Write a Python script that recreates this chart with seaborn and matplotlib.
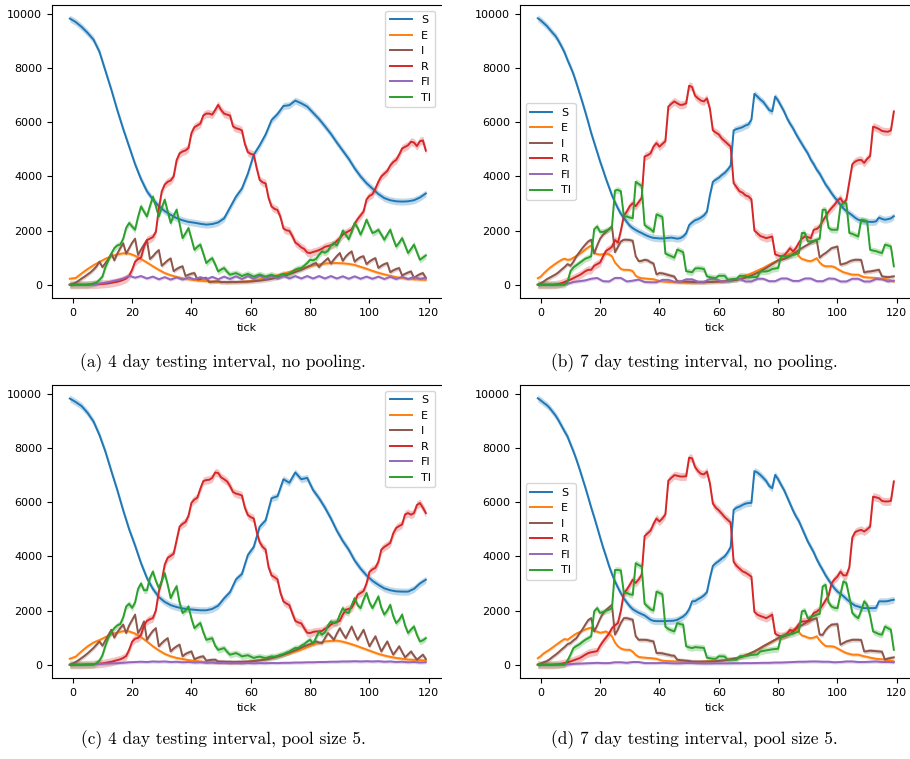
import matplotlib
matplotlib.use("Agg")
import matplotlib.pyplot as plt
import pandas as pd
import seaborn as sns

# ---------------- data ----------------
TICKS = list(range(-1, 120))          # every tick
TICKS_ODD = list(range(-1, 120, 2))   # every second tick (smooth series)
SERIES = ["S", "E", "I", "R", "FI", "TI"]
PALETTE = {"S": "#1f77b4", "E": "#ff7f0e", "I": "#8c564b",
           "R": "#d62728", "FI": "#9467bd", "TI": "#2ca02c"}
BAND = {"S": 130, "E": 60, "I": 80, "R": 150, "FI": 60, "TI": 120}
CAPTIONS = ["(a) 4 day testing interval, no pooling.",
            "(b) 7 day testing interval, no pooling.",
            "(c) 4 day testing interval, pool size 5.",
            "(d) 7 day testing interval, pool size 5."]

# ---- (a) 4 day, no pooling ----
A_S = [9830, 9700, 9520, 9300, 9050, 8600, 7900, 7200, 6450, 5750,
       5100, 4450, 3900, 3450, 3150, 2900, 2720, 2580, 2460, 2380,
       2320, 2290, 2250, 2220, 2240, 2300, 2450, 2850, 3250, 3550,
       4100, 4800, 5150, 5550, 6080, 6300, 6600, 6630, 6800, 6700,
       6580, 6350, 6120, 5850, 5570, 5250, 4950, 4650, 4300, 4000,
       3750, 3550, 3350, 3200, 3120, 3080, 3070, 3080, 3120, 3220,
       3370]
A_E = [220, 250, 420, 580, 720, 840, 960, 1050, 1120, 1160,
       1150, 1070, 950, 820, 680, 550, 430, 350, 290, 240,
       200, 170, 150, 130, 115, 105, 95, 90, 95, 105,
       125, 160, 200, 250, 300, 350, 410, 470, 540, 600,
       660, 710, 750, 780, 800, 800, 790, 770, 730, 660,
       590, 510, 440, 380, 330, 280, 245, 220, 200, 190,
       180]
A_FI = [0, 0, 0, 0, 10, 40, 80, 120, 170, 230,
        330, 260, 320, 230, 300, 200, 280, 190, 270, 190,
        270, 200, 280, 200, 290, 200, 300, 210, 310, 210,
        320, 220, 330, 220, 330, 230, 330, 230, 320, 230,
        320, 230, 320, 230, 320, 230, 310, 220, 310, 220,
        300, 220, 300, 210, 290, 210, 290, 210, 290, 220,
        260]
A_R = [0, 0, 0, 0, 0, 0, 5, 10, 10, 15, 20,
       30, 40, 50, 70, 90, 110, 140, 180, 230, 330,
       550, 850, 950, 1000, 1400, 1650, 1700, 1760, 1950, 2800,
       3450, 3700, 3800, 3850, 4000, 4600, 4850, 4920, 4960, 5050,
       5600, 5820, 5880, 5950, 6250, 6320, 6320, 6280, 6450, 6640,
       6450, 6320, 6280, 6250, 5850, 5780, 5750, 5700, 5200, 4900,
       4830, 4800, 4300, 3870, 3780, 3740, 3200, 2890, 2800, 2760,
       2500, 2080, 2010, 1990, 1800, 1560, 1480, 1380, 1320, 1190,
       1170, 1210, 1240, 1280, 1330, 1400, 1430, 1460, 1500, 1620,
       1720, 1850, 1920, 1980, 2040, 2250, 2420, 2560, 2700, 3150,
       3280, 3340, 3550, 3800, 4000, 4100, 4200, 4400, 4530, 4610,
       4800, 5030, 5090, 5150, 5280, 5250, 5120, 5300, 5330, 4950]
A_I = [0, 30, 80, 150, 230, 300, 380, 460, 560, 680, 850,
       650, 800, 950, 1150, 900, 1150, 1350, 1530, 1150, 1350,
       1550, 1700, 1100, 1300, 1480, 1650, 950, 1050, 1180, 1280,
       700, 800, 900, 970, 500, 580, 640, 680, 320, 370,
       410, 430, 190, 210, 235, 250, 100, 110, 120, 130,
       95, 100, 95, 100, 105, 100, 105, 110, 110, 115,
       120, 130, 140, 150, 165, 180, 195, 215, 240, 265,
       290, 320, 350, 390, 430, 470, 510, 550, 600, 650,
       700, 760, 800, 650, 780, 880, 980, 780, 930, 1060,
       1170, 880, 1040, 1150, 1230, 850, 950, 1020, 1050, 760,
       860, 930, 980, 620, 700, 760, 800, 460, 530, 580,
       615, 340, 400, 450, 490, 250, 330, 390, 430, 250]
A_TI = [0, 0, 0, 0, 0, 0, 0, 20, 50, 80, 180,
        300, 650, 900, 1150, 1350, 1450, 1480, 1700, 2100, 2280,
        2150, 2030, 2500, 2890, 2700, 2520, 2900, 3250, 2900, 2520,
        2850, 3140, 2700, 2280, 2550, 2770, 2250, 1720, 1900, 2090,
        1700, 1290, 1400, 1480, 1150, 800, 900, 980, 750, 490,
        560, 615, 480, 370, 400, 430, 380, 320, 360, 400,
        350, 300, 340, 380, 340, 300, 340, 370, 330, 310,
        360, 400, 380, 420, 480, 560, 600, 620, 700, 800,
        920, 900, 950, 1100, 1230, 1180, 1250, 1450, 1540, 1450,
        1700, 2000, 1850, 1680, 1950, 2280, 2100, 1850, 2100, 2400,
        2150, 1910, 1950, 2030, 1850, 1660, 1850, 2030, 1700, 1410,
        1550, 1720, 1450, 1170, 1320, 1480, 1200, 920, 1000, 1080]

# ---- (b) 7 day, no pooling ----
B_S = [9840, 9760, 9660, 9560, 9430, 9300, 9180, 9000, 8800, 8580, 8300,
       8050, 7780, 7450, 7100, 6750, 6380, 6000, 5600, 5250, 4900,
       4550, 4230, 3900, 3600, 3300, 3050, 2820, 2620, 2460, 2320,
       2180, 2090, 2020, 1960, 1910, 1850, 1800, 1760, 1730, 1720,
       1710, 1710, 1720, 1730, 1740, 1720, 1700, 1720, 1780, 1900,
       2200, 2300, 2380, 2420, 2480, 2560, 2700, 3300, 3800, 3880,
       3950, 4050, 4130, 4250, 4400, 5700, 5750, 5780, 5820, 5880,
       5920, 6100, 7050, 6950, 6840, 6750, 6600, 6450, 6400, 6950,
       6800, 6600, 6400, 6150, 5950, 5780, 5570, 5380, 5200, 5020,
       4850, 4620, 4450, 4250, 4100, 3900, 3700, 3550, 3380, 3230,
       3100, 2950, 2820, 2720, 2640, 2560, 2470, 2400, 2370, 2340,
       2330, 2320, 2320, 2340, 2480, 2430, 2400, 2420, 2450, 2530]
B_E = [240, 300, 420, 520, 620, 700, 780, 850, 920, 960, 920,
       930, 1000, 1060, 1130, 1210, 1300, 1380, 1450, 1180, 1130,
       1110, 1130, 1160, 1120, 1050, 820, 700, 580, 550, 550,
       540, 500, 330, 270, 240, 230, 220, 210, 200, 170,
       140, 120, 110, 100, 95, 90, 85, 80, 75, 70,
       70, 65, 65, 70, 75, 80, 90, 100, 105, 110,
       115, 120, 140, 160, 180, 200, 230, 260, 300, 340,
       380, 420, 470, 520, 570, 620, 680, 740, 800, 850,
       900, 960, 1030, 1080, 1140, 1190, 1230, 1050, 950, 920,
       880, 870, 920, 980, 820, 720, 680, 680, 680, 650,
       580, 520, 460, 430, 400, 370, 370, 370, 320, 280,
       270, 260, 255, 250, 240, 220, 210, 190, 160, 120]
B_FI = [0, 0, 0, 0, 10, 40, 100, 130, 160, 220,
        250, 130, 120, 250, 250, 120, 150, 190, 100, 90,
        90, 180, 180, 110, 110, 200, 200, 110, 110, 210,
        210, 120, 120, 210, 210, 120, 120, 220, 220, 130,
        130, 230, 230, 140, 140, 230, 230, 130, 130, 230,
        220, 120, 120, 220, 220, 120, 120, 210, 200, 120,
        150]
B_R = [0, 0, 0, 0, 0, 0, 10, 30, 60, 100, 150,
       190, 240, 300, 350, 420, 500, 550, 550, 700, 760,
       820, 1050, 1250, 1320, 1400, 1650, 1550, 2000, 2550, 2700,
       2900, 3010, 2900, 3050, 3200, 4740, 4780, 4850, 5100, 5230,
       5100, 5200, 5300, 6580, 6680, 6770, 6700, 6640, 6650, 6700,
       7350, 7300, 6980, 6880, 6800, 6770, 6880, 6500, 5700, 5620,
       5550, 5400, 5300, 5200, 5100, 3750, 3600, 3450, 3400, 3300,
       3260, 3150, 2000, 1900, 1800, 1760, 1720, 1750, 1780, 1120,
       1080, 1050, 1080, 1200, 1350, 1230, 1350, 1550, 1700, 1780,
       1760, 1720, 2030, 2060, 2150, 2350, 2520, 2700, 2830, 2950,
       3100, 3200, 3010, 3140, 3800, 4450, 4550, 4600, 4610, 4500,
       4650, 4750, 5840, 5800, 5750, 5680, 5660, 5650, 5700, 6400]
B_I = [0, 50, 120, 200, 260, 320, 380, 460, 560, 650, 760,
       700, 850, 1050, 1200, 1350, 1480, 1600, 1660, 1150, 1450,
       1700, 1850, 1950, 2050, 2150, 1200, 1400, 1600, 1660, 1660,
       1650, 1620, 1050, 870, 880, 920, 900, 830, 780, 380,
       430, 420, 390, 360, 330, 300, 130, 120, 120, 115,
       110, 105, 100, 100, 95, 95, 100, 100, 105, 110,
       115, 120, 130, 140, 150, 165, 180, 200, 230, 260,
       300, 340, 390, 440, 490, 560, 620, 690, 760, 830,
       900, 920, 950, 1000, 1050, 1120, 1200, 1280, 1350, 1420,
       1480, 1550, 1600, 1650, 1000, 1100, 1170, 1260, 1350, 1380,
       1410, 740, 770, 800, 860, 900, 920, 920, 910, 450,
       480, 490, 510, 530, 550, 310, 290, 280, 290, 310]
B_TI = [0, 0, 0, 0, 0, 0, 0, 0, 0, 0, 100,
        500, 640, 720, 800, 880, 960, 1000, 1050, 2050, 2150,
        1950, 1950, 2000, 2050, 2150, 3480, 3500, 3450, 2520, 2520,
        2480, 2460, 3800, 3720, 3650, 2200, 2120, 2050, 1950, 2600,
        2550, 2500, 1150, 1100, 1050, 1000, 1300, 1250, 1200, 500,
        480, 460, 600, 610, 600, 580, 310, 280, 260, 250,
        330, 330, 330, 190, 200, 210, 210, 330, 330, 330,
        270, 280, 280, 290, 490, 490, 490, 520, 580, 600,
        620, 1050, 1050, 1050, 1080, 1100, 1130, 1170, 1910, 1910,
        1600, 1600, 1620, 1660, 1700, 2770, 2770, 2100, 2030, 2030,
        2030, 2900, 3010, 3010, 1910, 1880, 1830, 1780, 2400, 2380,
        2340, 1290, 1260, 1240, 1200, 1170, 1480, 1450, 1410, 680]

# ---- (c) 4 day, pool size 5 ----
C_S = [9830, 9700, 9550, 9300, 8980, 8480, 7870, 7150, 6450, 5700,
       5000, 4400, 3750, 3200, 2800, 2500, 2320, 2200, 2130, 2080,
       2050, 2030, 2010, 2010, 2060, 2180, 2450, 2680, 3150, 3350,
       4050, 4350, 5100, 5330, 6150, 6220, 6850, 6720, 7100, 6850,
       6900, 6450, 6150, 5800, 5400, 4950, 4570, 4250, 3850, 3550,
       3300, 3100, 2950, 2820, 2750, 2710, 2700, 2700, 2800, 3000,
       3140]
C_E = [220, 300, 500, 680, 820, 910, 1020, 1120, 1190, 1240,
       1230, 1150, 1020, 860, 680, 530, 400, 310, 250, 210,
       170, 140, 120, 100, 90, 80, 70, 65, 70, 90,
       110, 140, 170, 210, 260, 310, 370, 420, 490, 560,
       650, 740, 800, 860, 880, 890, 850, 790, 720, 640,
       560, 480, 400, 340, 290, 250, 220, 190, 180, 165,
       160]
C_FI = [0, 0, 5, 10, 20, 30, 40, 50, 60, 70,
        90, 100, 110, 100, 120, 110, 120, 100, 110, 90,
        100, 80, 90, 70, 80, 60, 70, 55, 60, 50,
        60, 50, 60, 55, 65, 60, 70, 70, 80, 80,
        90, 90, 100, 100, 110, 110, 120, 120, 130, 120,
        130, 120, 130, 110, 120, 100, 110, 90, 100, 80,
        90]
C_R = [0, 0, 0, 0, 0, 5, 10, 15, 20, 30, 40,
       50, 70, 90, 110, 140, 170, 200, 250, 320, 550,
       850, 960, 990, 1100, 1450, 1620, 1680, 1720, 2000, 2700,
       3100, 3700, 3950, 4020, 4100, 4600, 5100, 5200, 5270, 5500,
       5980, 6100, 6170, 6500, 6780, 6820, 6830, 6900, 7100, 7080,
       6920, 6850, 6770, 6600, 6380, 6320, 6290, 6250, 5800, 5530,
       5450, 5400, 4900, 4520, 4350, 4250, 3600, 3300, 3230, 3150,
       2650, 2340, 2260, 2200, 1900, 1620, 1560, 1530, 1350, 1180,
       1170, 1210, 1230, 1230, 1250, 1330, 1380, 1480, 1550, 1580,
       1620, 1850, 2030, 2060, 2100, 2300, 2580, 2650, 2720, 3000,
       3430, 3520, 3580, 3800, 4250, 4350, 4420, 4500, 4850, 5050,
       5120, 5180, 5550, 5600, 5540, 5600, 5900, 5970, 5800, 5600]
C_I = [0, 40, 100, 170, 250, 330, 420, 520, 620, 740, 860,
       700, 900, 1100, 1290, 1000, 1200, 1350, 1480, 1170, 1450,
       1650, 1850, 1170, 1350, 1600, 920, 1100, 1250, 1350, 680,
       800, 900, 980, 490, 600, 680, 740, 310, 400, 450,
       490, 200, 250, 290, 310, 150, 170, 180, 185, 120,
       120, 115, 110, 110, 105, 105, 110, 110, 115, 120,
       125, 135, 145, 160, 175, 195, 215, 240, 270, 300,
       330, 370, 410, 450, 490, 530, 580, 630, 680, 720,
       760, 810, 860, 820, 800, 980, 1170, 1050, 920, 1150,
       1350, 1150, 980, 1200, 1410, 1150, 920, 1100, 1290, 980,
       680, 870, 1050, 760, 490, 680, 860, 600, 370, 520,
       680, 470, 270, 380, 490, 330, 185, 280, 370, 210]
C_TI = [0, 0, 0, 0, 0, 0, 0, 0, 0, 60, 150,
        350, 700, 1000, 1200, 1350, 1450, 1500, 1750, 2150, 2250,
        2100, 2300, 2800, 3000, 2750, 2750, 3200, 3440, 3100, 2830,
        3100, 3380, 2950, 2460, 2700, 2900, 2300, 1910, 2000, 2150,
        1700, 1350, 1450, 1540, 1200, 920, 950, 980, 700, 550,
        580, 615, 480, 370, 400, 430, 380, 310, 330, 350,
        300, 250, 280, 300, 270, 250, 280, 310, 300, 330,
        370, 400, 450, 490, 560, 620, 620, 700, 760, 850,
        920, 780, 1000, 1230, 1110, 1200, 1450, 1600, 1540, 1560,
        1850, 2090, 1950, 1910, 2200, 2460, 2200, 2090, 2400, 2650,
        2300, 2090, 2300, 2520, 2100, 1850, 2000, 2210, 1800, 1540,
        1650, 1850, 1450, 1170, 1300, 1410, 1100, 860, 900, 980]

# ---- (d) 7 day, pool size 5 ----
D_S = [9840, 9760, 9670, 9590, 9480, 9340, 9200, 9020, 8820, 8620, 8430,
       8150, 7880, 7580, 7250, 6900, 6550, 6180, 5800, 5450, 5080,
       4700, 4330, 4000, 3650, 3350, 3080, 2850, 2640, 2450, 2300,
       2160, 2050, 1980, 1920, 1870, 1820, 1740, 1660, 1620, 1610,
       1610, 1610, 1610, 1620, 1620, 1630, 1660, 1720, 1780, 1880,
       2050, 2340, 2350, 2420, 2480, 2560, 2680, 3200, 3650, 3750,
       3830, 3920, 4000, 4150, 4350, 5720, 5800, 5840, 5900, 5950,
       5970, 5980, 7150, 7100, 7010, 6900, 6780, 6600, 6520, 7010,
       6850, 6640, 6450, 6200, 5950, 5700, 5480, 5300, 5050, 4800,
       4550, 4350, 4150, 3900, 3690, 3500, 3300, 3130, 2970, 2820,
       2700, 2620, 2530, 2430, 2340, 2250, 2180, 2150, 2110, 2090,
       2090, 2090, 2090, 2100, 2340, 2340, 2340, 2350, 2380, 2400]
D_E = [240, 320, 420, 490, 560, 640, 720, 800, 880, 950, 920,
       1000, 1080, 1150, 1200, 1250, 1300, 1340, 1370, 1250, 1220,
       1180, 1200, 1230, 1150, 1050, 820, 680, 600, 560, 550,
       550, 480, 360, 290, 270, 260, 250, 245, 230, 220,
       180, 150, 140, 135, 130, 125, 120, 115, 110, 105,
       100, 100, 100, 105, 110, 115, 120, 125, 130, 140,
       145, 150, 170, 190, 210, 230, 250, 280, 320, 360,
       400, 440, 490, 550, 620, 680, 740, 800, 860, 920,
       980, 1040, 1100, 1150, 1220, 1290, 1350, 1200, 1080, 1050,
       1000, 980, 1000, 1050, 900, 780, 690, 680, 680, 660,
       600, 540, 480, 430, 400, 370, 370, 370, 340, 310,
       290, 260, 240, 220, 210, 200, 190, 170, 150, 120]
D_FI = [0, 0, 0, 5, 10, 20, 30, 40, 50, 60,
        70, 60, 60, 90, 90, 70, 100, 100, 60, 60,
        60, 70, 60, 50, 50, 60, 60, 50, 45, 45,
        50, 50, 50, 55, 55, 60, 60, 65, 70, 70,
        80, 80, 90, 100, 110, 110, 120, 120, 110, 110,
        90, 100, 120, 120, 100, 100, 110, 120, 100, 100,
        90]
D_R = [0, 0, 0, 0, 0, 0, 10, 20, 40, 60, 90,
       120, 160, 200, 240, 300, 370, 430, 460, 480, 500,
       700, 860, 1000, 1150, 1350, 1450, 1540, 2000, 2650, 2770,
       2950, 3140, 3020, 3150, 3320, 4750, 4850, 4950, 5200, 5400,
       5290, 5400, 5550, 6800, 6900, 7000, 6980, 6950, 6950, 6960,
       7650, 7620, 7300, 7150, 7050, 7030, 7130, 6700, 5950, 5800,
       5700, 5580, 5450, 5350, 5250, 3800, 3650, 3550, 3450, 3400,
       3330, 3250, 1950, 1850, 1800, 1760, 1720, 1780, 1850, 1150,
       1080, 1050, 1080, 1150, 1290, 1230, 1350, 1500, 1600, 1600,
       1620, 1720, 1910, 1960, 2050, 2200, 2380, 2550, 3000, 3150,
       3260, 3440, 3300, 3300, 3600, 4700, 4900, 4950, 4980, 4920,
       5000, 5100, 6210, 6180, 6150, 6050, 6030, 6030, 6050, 6770]
D_I = [0, 40, 90, 130, 200, 290, 370, 460, 560, 650, 760,
       800, 900, 980, 1150, 1300, 1480, 1650, 1720, 1230, 1450,
       1700, 1900, 2020, 2120, 2210, 1110, 1300, 1550, 1720, 1720,
       1690, 1660, 1050, 920, 920, 920, 910, 880, 860, 430,
       430, 420, 390, 370, 340, 330, 185, 170, 160, 150,
       140, 120, 120, 115, 115, 115, 120, 120, 125, 130,
       140, 150, 160, 180, 200, 220, 240, 270, 300, 340,
       390, 440, 490, 550, 610, 680, 740, 800, 860, 920,
       980, 1010, 1050, 1090, 1130, 1220, 1320, 1400, 1460, 1530,
       1590, 1640, 1680, 1720, 1110, 1100, 1280, 1400, 1480, 1490,
       1500, 740, 800, 860, 890, 920, 920, 920, 910, 490,
       500, 520, 510, 500, 490, 480, 185, 230, 250, 270]
D_TI = [0, 0, 0, 0, 0, 0, 0, 0, 0, 0, 150,
        370, 615, 690, 750, 840, 920, 980, 1050, 1970, 2090,
        1910, 1950, 2000, 2030, 2090, 3500, 3500, 3480, 2650, 2650,
        2600, 2580, 3750, 3680, 3630, 2250, 2150, 2050, 2000, 2700,
        2650, 2600, 1400, 1320, 1270, 1230, 1540, 1500, 1480, 680,
        640, 615, 650, 640, 630, 620, 260, 240, 220, 220,
        310, 310, 300, 185, 185, 185, 185, 310, 320, 330,
        340, 360, 370, 380, 490, 510, 530, 550, 570, 580,
        590, 1050, 1080, 1100, 1120, 1150, 1190, 1230, 1970, 2000,
        1720, 1760, 1800, 1850, 1880, 2890, 2950, 2300, 2150, 2100,
        2090, 2600, 3080, 3010, 2500, 1910, 1800, 1720, 2000, 2340,
        2210, 1800, 1230, 1180, 1130, 1110, 1410, 1350, 1290, 550]

PANELS = [
    {"S": A_S, "E": A_E, "I": A_I, "R": A_R, "FI": A_FI, "TI": A_TI},
    {"S": B_S, "E": B_E, "I": B_I, "R": B_R, "FI": B_FI, "TI": B_TI},
    {"S": C_S, "E": C_E, "I": C_I, "R": C_R, "FI": C_FI, "TI": C_TI},
    {"S": D_S, "E": D_E, "I": D_I, "R": D_R, "FI": D_FI, "TI": D_TI},
]
LEGEND_LOC = ["upper right", "center left", "upper right", "center left"]

# ---------------- layout ----------------
plt.rcParams["font.size"] = 8
W, H = 910, 759
fig = plt.figure(figsize=(W / 100, H / 100), dpi=100)
BOXES = [(52, 5, 441, 298), (520, 5, 910, 298),
         (52, 385, 441, 678), (520, 385, 910, 678)]
CAP_POS = [(223, 363), (694, 363), (223, 740), (694, 740)]


def long_frame(panel):
    parts = []
    for name in SERIES:
        vals = panel[name]
        xs = TICKS if len(vals) == len(TICKS) else TICKS_ODD
        parts.append(pd.DataFrame({"tick": xs, "value": vals, "series": name}))
    return pd.concat(parts, ignore_index=True)


for k, panel in enumerate(PANELS):
    l, t, r, b = BOXES[k]
    ax = fig.add_axes([l / W, 1 - b / H, (r - l) / W, (b - t) / H])
    df = long_frame(panel)
    for name in SERIES:
        sub = df[df["series"] == name]
        ax.fill_between(sub["tick"], sub["value"] - BAND[name],
                        sub["value"] + BAND[name], color=PALETTE[name],
                        alpha=0.28, lw=0)
    sns.lineplot(data=df, x="tick", y="value", hue="series",
                 hue_order=SERIES, palette=PALETTE, estimator=None,
                 linewidth=1.4, ax=ax)
    x_right = -7 + (r - l) / 2.967
    ax.set_xlim(-7, x_right)
    ax.set_ylim(-490, 10330)
    ax.set_xticks(range(0, 121, 20))
    ax.set_yticks(range(0, 10001, 2000))
    ax.set_xlabel("tick")
    ax.set_ylabel("")
    ax.spines["right"].set_visible(False)
    old = ax.get_legend()
    handles = old.legend_handles
    labels = [tx.get_text() for tx in old.get_texts()]
    old.remove()
    ax.legend(handles, labels, loc=LEGEND_LOC[k], fontsize=8)
    cx, cy = CAP_POS[k]
    fig.text(cx / W, 1 - cy / H, CAPTIONS[k], ha="center", va="center",
             fontfamily="cmr10", fontsize=12.5)

fig.savefig("out.png", dpi=100)
